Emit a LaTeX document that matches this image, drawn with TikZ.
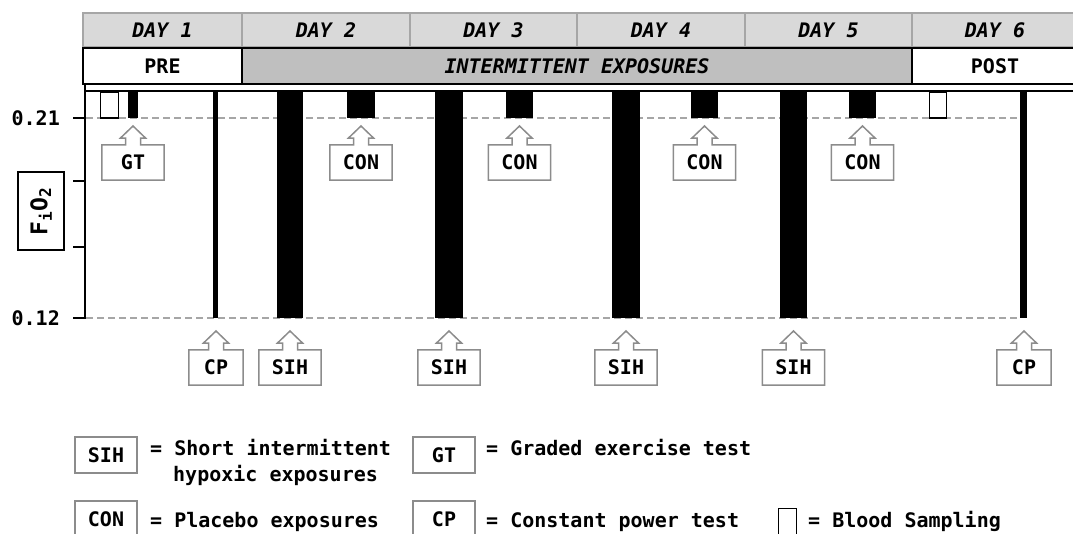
\documentclass[tikz,border=0pt]{standalone}
\usepackage{fontspec}
\setmainfont{DejaVu Sans Mono}
\definecolor{dayfill}{HTML}{D9D9D9}
\definecolor{dayline}{HTML}{A6A6A6}
\definecolor{phasefill}{HTML}{BFBFBF}
\definecolor{callgray}{HTML}{8C8C8C}
\definecolor{dashgray}{HTML}{A6A6A6}
% up-pointing callout: #1 name, #2 centre x, #3 box top, #4 half width, #5 label
\newcommand\upcallout[5]{%
  \node[calltext, minimum width={2*#4}, minimum height=35] (#1) at (#2,{#3+17.5}) {#5};
  \draw[callline] (#1.north west) -| ({#2-7.5},{#3-7}) -- ({#2-12.5},{#3-7})
    -- (#2,{#3-19}) -- ({#2+12.5},{#3-7}) -- ({#2+7.5},{#3-7})
    |- (#1.north east) -- (#1.south east) -- (#1.south west) -- cycle;}
\begin{document}
\begin{tikzpicture}[x=1pt,y=-1pt,
  every node/.style={font=\fontsize{20}{24}\selectfont\bfseries, inner sep=0pt},
  daycell/.style={draw=dayline, fill=dayfill, line width=1.2pt, minimum height=34},
  phasecell/.style={draw=black, line width=1.5pt, minimum height=36},
  calltext/.style={draw=none},
  callline/.style={draw=callgray, line width=1.5pt, line join=miter},
  legbox/.style={draw=callgray, line width=1.5pt, minimum width=62, minimum height=36},
  axisline/.style={line width=2pt},
  levelline/.style={draw=dashgray, line width=1.5pt, dash pattern=on 7pt off 4pt},
  bloodbox/.style={draw=black, fill=white, line width=1.5pt}
]
\useasboundingbox (0,0) rectangle (1073,533);
\clip (0,0) rectangle (1073,533);

% day header
\node[daycell, minimum width=159] (d1) at (162.5,30) {\itshape DAY 1};
\node[daycell, minimum width=168] (d2) at (326,30) {\itshape DAY 2};
\node[daycell, minimum width=167] (d3) at (493.5,30) {\itshape DAY 3};
\node[daycell, minimum width=168] (d4) at (661,30) {\itshape DAY 4};
\node[daycell, minimum width=167] (d5) at (828.5,30) {\itshape DAY 5};
\node[daycell, minimum width=166] (d6) at (995,30) {\itshape DAY 6};

% phases
\node[phasecell, fill=white, minimum width=159] (pre) at (162.5,66) {PRE};
\node[phasecell, fill=phasefill, minimum width=670] (inter) at (577,66) {\itshape INTERMITTENT EXPOSURES};
\node[phasecell, fill=white, minimum width=166] (post) at (995,66) {POST};

% plot frame and axis
\draw[line width=1.5pt] (85,91) -- (1080,91);
\draw[axisline] (85,84) -- (85,319);
\foreach \yy in {118,181,247,318} \draw[axisline] (73,\yy) -- (85,\yy);
\node[anchor=east] (y21) at (60,118) {0.21};
\node[anchor=east] (y12) at (60,318) {0.12};
\node[draw, line width=1.5pt, rotate=90, minimum width=78, minimum height=46,
      font=\fontsize{23}{26}\selectfont\bfseries] (fio) at (41,211) {F\textsubscript{i}O\textsubscript{2}};

% FiO2 levels
\draw[levelline] (86,118) -- (1020,118);
\draw[levelline] (86,318) -- (1020,318);

% blood sampling
\draw[bloodbox] (100.5,92) rectangle (118.5,118);
\draw[bloodbox] (929.5,92) rectangle (946.5,118);

% exposures and tests
\fill (128,92) rectangle (138,118);
\fill (213,92) rectangle (217.5,318);
\fill (277,92) rectangle (303,318);
\fill (347,92) rectangle (375,118);
\fill (435,92) rectangle (463,318);
\fill (506,92) rectangle (533,118);
\fill (612,92) rectangle (640,318);
\fill (691,92) rectangle (718,118);
\fill (780,92) rectangle (807,318);
\fill (849,92) rectangle (876,118);
\fill (1020,92) rectangle (1027,318);

% callouts
\upcallout{cgt}{133}{145}{31}{GT}
\upcallout{ccon2}{361}{145}{31}{CON}
\upcallout{ccon3}{519.5}{145}{31}{CON}
\upcallout{ccon4}{704.5}{145}{31}{CON}
\upcallout{ccon5}{862.5}{145}{31}{CON}
\upcallout{ccp1}{216}{350}{27}{CP}
\upcallout{csih2}{290}{350}{31}{SIH}
\upcallout{csih3}{449}{350}{31}{SIH}
\upcallout{csih4}{626}{350}{31}{SIH}
\upcallout{csih5}{793.5}{350}{31}{SIH}
\upcallout{ccp6}{1024}{350}{27}{CP}

% legend
\node[legbox] (lsih) at (106,455) {SIH};
\node[anchor=base west] (tsih) at (150,455) {= Short intermittent};
\node[anchor=base west] (tsihb) at (173,481) {hypoxic exposures};
\node[legbox] (lgt) at (444,455) {GT};
\node[anchor=base west] (tgt) at (486,455) {= Graded exercise test};
\node[legbox] (lcon) at (106,519) {CON};
\node[anchor=base west] (tcon) at (150,527) {= Placebo exposures};
\node[legbox] (lcp) at (444,519) {CP};
\node[anchor=base west] (tcp) at (486,527) {= Constant power test};
\draw[line width=1.5pt] (778.5,536) |- (796.5,508.5) -- (796.5,536);
\node[anchor=base west] (tblood) at (808,527) {= Blood Sampling};
\end{tikzpicture}
\end{document}
